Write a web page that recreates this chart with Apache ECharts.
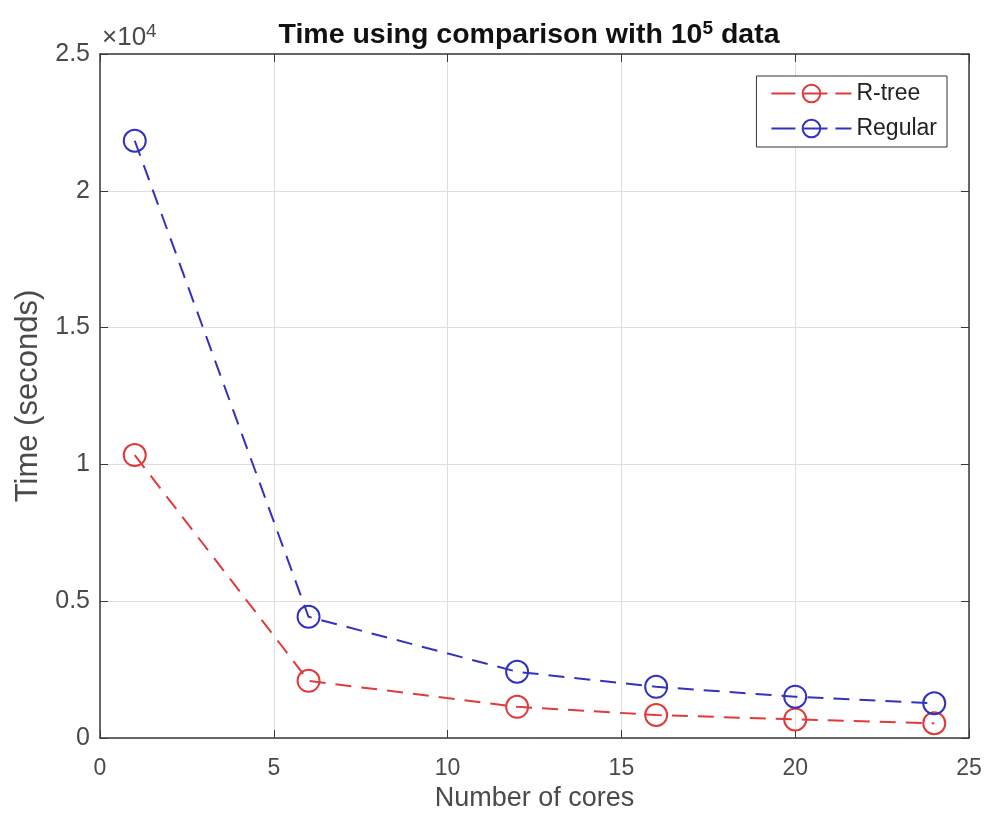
<!DOCTYPE html>
<html>
<head>
<meta charset="utf-8">
<script src="https://cdn.jsdelivr.net/npm/echarts@6/dist/echarts.min.js"></script>
<style>
  html, body { margin: 0; padding: 0; background: #fff; }
  #chart { width: 989px; height: 824px; }
</style>
</head>
<body>
<div id="chart"></div>
<script>
// data
const cores = [1, 6, 12, 16, 20, 24]
const rtreeTime = [10340, 2090, 1140, 840, 680, 540]
const regularTime = [21830, 4430, 2420, 1870, 1510, 1270]
const xTicks = [0, 5, 10, 15, 20, 25]
const yTicks = [0, 0.5, 1, 1.5, 2, 2.5]

const red = '#e03a3a'
const blue = '#3232c0'
const labelColor = '#4a4a4a'
const font = 'Liberation Sans, Arial, sans-serif'

function pairs(xs, ys) {
  return xs.map((x, i) => [x, ys[i]])
}

const chart = echarts.init(document.getElementById('chart'))

// top and right edges of the box
const frameAxis = {
  axisLine: { show: true, onZero: false, lineStyle: { color: '#3a3a3a', width: 1.5 } },
  axisTick: { show: true, inside: true, length: 8, lineStyle: { color: '#3a3a3a' } },
  axisLabel: { show: false },
  splitLine: { show: false }
}

chart.setOption({
  animation: false,
  title: {
    text: 'Time using comparison with 10{sup|5} data',
    left: 524,
    top: 14,
    textAlign: 'center',
    textStyle: {
      fontFamily: font,
      fontSize: 28.5,
      fontWeight: 'bold',
      color: '#111',
      rich: {
        sup: { fontSize: 19, fontWeight: 'bold', verticalAlign: 'top', padding: [0, 0, 14, 0], color: '#111', fontFamily: font }
      }
    }
  },
  legend: {
    right: 42,
    top: 76,
    orient: 'vertical',
    itemWidth: 80,
    itemHeight: 22,
    itemGap: 12,
    padding: [6, 10, 7, 14],
    borderColor: '#333',
    borderWidth: 1,
    backgroundColor: '#fff',
    lineStyle: { type: [24, 8] },
    textStyle: { fontFamily: font, fontSize: 23, color: '#222' },
    data: ['R-tree', 'Regular']
  },
  graphic: [{
    type: 'text',
    left: 102,
    top: 22,
    style: {
      text: '×10{sup|4}',
      fontFamily: font,
      fontSize: 26,
      fill: labelColor,
      rich: { sup: { fontSize: 19, verticalAlign: 'top', padding: [0, 0, 12, 0], fill: labelColor, fontFamily: font } }
    }
  }],
  grid: { left: 100, right: 20, top: 54, bottom: 86 },
  xAxis: [{
    type: 'value',
    min: xTicks[0],
    max: xTicks[xTicks.length - 1],
    interval: 5,
    name: 'Number of cores',
    nameLocation: 'middle',
    nameGap: 42,
    nameTextStyle: { fontFamily: font, fontSize: 27, color: labelColor },
    axisLine: { show: true, onZero: false, lineStyle: { color: '#3a3a3a', width: 1.5 } },
    axisTick: { show: true, inside: true, length: 8, lineStyle: { color: '#3a3a3a' } },
    axisLabel: { fontFamily: font, fontSize: 23, color: labelColor, margin: 19 },
    splitLine: { show: true, lineStyle: { color: '#dedede', width: 1 } }
  }, Object.assign({ type: 'value', position: 'top', min: 0, max: 25, interval: 5 }, frameAxis)],
  yAxis: [{
    type: 'value',
    min: 0,
    max: yTicks[yTicks.length - 1] * 10000,
    interval: 5000,
    name: 'Time (seconds)',
    nameLocation: 'middle',
    nameGap: 56,
    nameTextStyle: { fontFamily: font, fontSize: 31, color: labelColor },
    axisLine: { show: true, onZero: false, lineStyle: { color: '#3a3a3a', width: 1.5 } },
    axisTick: { show: true, inside: true, length: 8, lineStyle: { color: '#3a3a3a' } },
    axisLabel: {
      fontFamily: font, fontSize: 25, color: labelColor, margin: 10,
      padding: [8, 0, 0, 0],
      formatter: v => String(yTicks[Math.round(v / 5000)])
    },
    splitLine: { show: true, lineStyle: { color: '#dedede', width: 1 } }
  }, Object.assign({ type: 'value', position: 'right', min: 0, max: 25000, interval: 5000 }, frameAxis)],
  series: [{
    name: 'R-tree',
    type: 'line',
    data: pairs(cores, rtreeTime),
    symbol: 'circle',
    symbolSize: 22,
    color: red,
    lineStyle: { color: red, width: 2, type: [16, 10] },
    itemStyle: { color: 'rgba(0,0,0,0)', borderColor: red, borderWidth: 2 }
  }, {
    name: 'Regular',
    type: 'line',
    data: pairs(cores, regularTime),
    symbol: 'circle',
    symbolSize: 22,
    color: blue,
    lineStyle: { color: blue, width: 2, type: [16, 10] },
    itemStyle: { color: 'rgba(0,0,0,0)', borderColor: blue, borderWidth: 2 }
  }]
})
</script>
</body>
</html>
